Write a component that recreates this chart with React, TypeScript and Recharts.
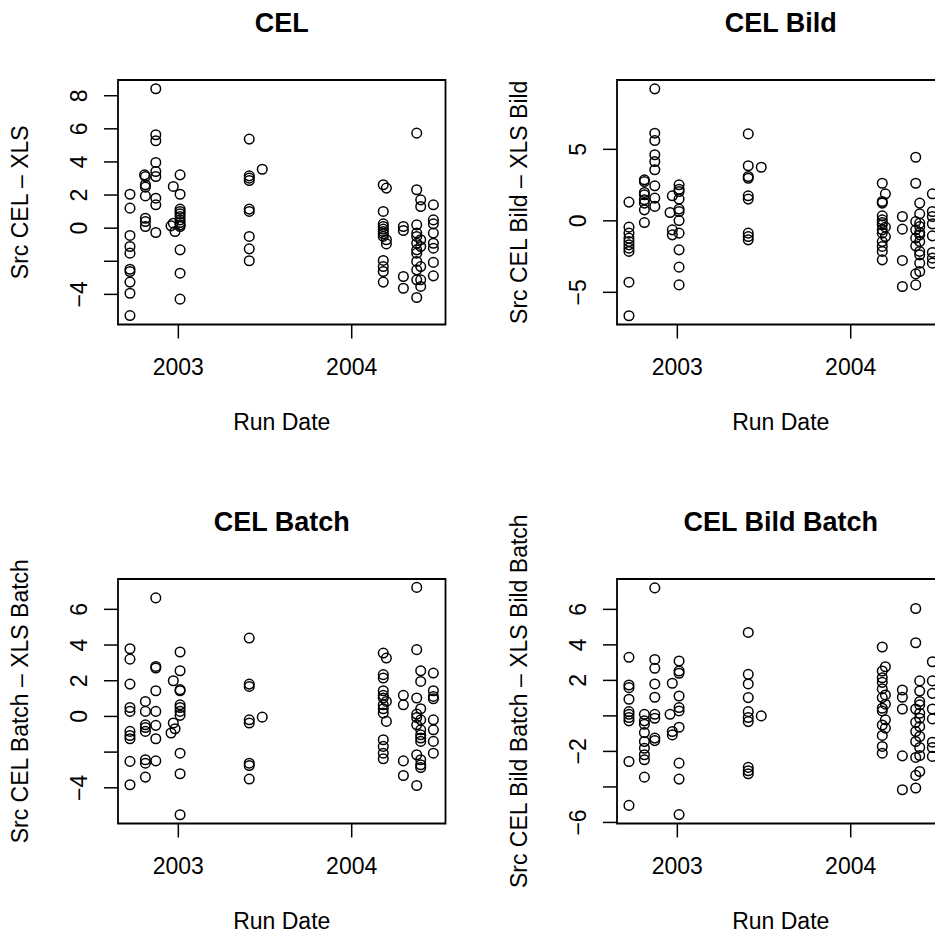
import React from 'react';
import { ScatterChart, Scatter, XAxis, YAxis, ReferenceArea } from 'recharts';

// run dates as decimal years (clusters of runs)
const runDates = [
  2002.721, 2002.81, 2002.805, 2002.87, 2002.958, 2002.971, 2002.981, 2003.01,
  2003.409, 2003.484, 2004.182, 2004.2, 2004.298, 2004.375, 2004.398, 2004.471,
];

// differences per run date (same order as runDates)
const celDiff: number[][] = [
  [2.05, 1.21, -0.44, -1.11, -1.51, -2.48, -2.62, -3.26, -3.93, -5.28],
  [3.12, 2.62, 2.48, 1.95, 0.6, 0.4, 0.1],
  [3.22],
  [8.42, 5.64, 5.28, 3.97, 3.42, 3.12, 1.81, 1.41, -0.26],
  [0.14],
  [2.52, 0.3],
  [-0.2],
  [3.22, 2.05, 1.15, 1.01, 0.87, 0.7, 0.5, 0.34, 0.2, 0.1, -1.31, -2.72, -4.29],
  [5.38, 3.16, 3.02, 2.88, 1.15, 1.01, -0.5, -1.25, -1.97],
  [3.56],
  [2.62, 1.01, 0.26, 0.1, -0.06, -0.2, -0.34, -0.5, -1.95, -2.32, -2.62, -3.26],
  [2.42, -0.7, -0.95],
  [0.1, -0.14, -2.92, -3.63],
  [5.74, 2.32, 0.2, -0.3, -0.5, -0.91, -1.31, -1.51, -2.01, -2.52, -3.12, -4.19],
  [1.71, 1.31, -0.7, -1.11, -2.32, -3.12, -3.52],
  [1.41, 0.5, 0.26, -0.3, -0.91, -1.21, -2.07, -2.88],
];

const celBildDiff: number[][] = [
  [1.31, -0.44, -0.86, -1.21, -1.45, -1.68, -1.91, -2.14, -4.29, -6.64],
  [2.87, 2.75, 1.98, 1.82, 1.47, 1.24, 0.77, -0.12],
  [],
  [9.23, 6.13, 5.62, 4.62, 4.15, 3.57, 2.45, 1.59, 1.01],
  [0.58],
  [1.75, -0.63, -0.98],
  [],
  [2.52, 2.21, 2.05, 1.52, 0.82, 0.65, 0.02, -0.86, -2.03, -3.24, -4.48],
  [6.08, 3.85, 3.1, 2.98, 1.75, 1.52, -0.86, -1.1, -1.33],
  [3.75],
  [2.63, 1.35, 1.24, 0.35, 0.07, -0.12, -0.28, -0.63, -0.86, -1.45, -1.79, -2.14, -2.73],
  [1.89, -0.44, -1.1],
  [0.3, -0.58, -2.77, -4.59],
  [4.45, 2.63, -0.05, -0.63, -1.21, -1.75, -3.71, -4.48],
  [1.24, 0.49, -0.16, -0.4, -0.82, -0.98, -1.45, -2.14, -2.38, -2.96, -3.54],
  [1.89, 0.65, 0.3, -0.21, -1.05, -2.21, -2.61, -2.96],
];

const celBatchDiff: number[][] = [
  [3.79, 3.21, 1.81, 0.5, 0.28, -0.84, -1.07, -1.25, -2.52, -3.83],
  [0.84, 0.28, -0.47, -0.62, -0.84, -2.43, -2.62, -3.4],
  [],
  [6.64, 2.8, 2.71, 1.44, 0.28, -0.5, -1.25, -2.49],
  [-0.93],
  [2.0, -0.37],
  [-0.69],
  [3.61, 2.56, 1.5, 1.44, 0.65, 0.5, 0.28, 0.06, -2.06, -3.21, -5.51],
  [4.39, 1.81, 1.68, -0.19, -0.37, -2.62, -2.75, -3.51],
  [-0.04],
  [3.55, 2.34, 2.15, 1.44, 1.18, 1.03, 0.65, 0.43, 0.19, -1.31, -1.68, -2.06, -2.37],
  [3.27, 0.84, -0.28],
  [1.18, 0.65, -2.49, -3.31],
  [7.23, 3.74, 1.03, 0.13, -0.06, -0.47, -2.15, -3.87],
  [2.56, 1.96, 0.43, -0.19, -0.75, -1.03, -1.21, -1.4, -2.43, -2.71, -2.86],
  [2.43, 1.44, 1.12, 0.99, -0.19, -0.75, -1.4, -2.06],
];

const celBildBatchDiff: number[][] = [
  [3.3, 1.74, 1.59, 0.94, 0.24, 0.09, -0.09, -0.28, -2.57, -5.04],
  [0.09, -0.28, -0.47, -0.94, -1.44, -1.82, -2.19, -2.47, -3.45],
  [],
  [7.21, 3.18, 2.68, 1.8, 1.05, 0.09, -0.13, -1.25, -1.39],
  [0.09],
  [1.84, -0.88, -1.07],
  [],
  [3.09, 2.53, 2.4, 1.12, 0.47, 0.28, -0.64, -2.66, -3.56, -5.56],
  [4.7, 2.34, 1.8, 1.03, 0.24, -0.09, -0.32, -2.9, -3.09, -3.26],
  [0.0],
  [3.88, 2.53, 2.15, 1.89, 1.52, 1.03, 0.43, 0.28, -0.51, -1.1, -1.72, -2.1],
  [2.77, 1.18, 0.66, -0.22, -0.69],
  [1.46, 1.05, 0.39, -2.25, -4.16],
  [6.05, 4.12, 0.39, -0.36, -0.88, -1.44, -2.34, -3.35, -4.06],
  [1.97, 1.4, 0.81, 0.62, 0.15, -0.13, -0.6, -1.16, -1.78, -2.23, -3.13],
  [3.05, 1.97, 1.27, 0.39, -0.17, -1.48, -1.78, -2.28],
];

const xTicks = [2003, 2004];
const titles = ['CEL', 'CEL Bild', 'CEL Batch', 'CEL Bild Batch'];
const yLabels = [
  'Src CEL \u2013 XLS',
  'Src CEL Bild \u2013 XLS Bild',
  'Src CEL Batch \u2013 XLS Batch',
  'Src CEL Bild Batch \u2013 XLS Bild Batch',
];
const yTicks = [
  [-4, -2, 0, 2, 4, 6, 8],
  [-5, 0, 5],
  [-4, -2, 0, 2, 4, 6],
  [-6, -4, -2, 0, 2, 4, 6],
];
// tick labels R dropped because they would overlap
const yHidden = [[-2], [], [-2], [-4, 0]];

const X_DOMAIN: [number, number] = [2002.652, 2004.541];
const Y_DOMAINS: [number, number][] = [
  [-5.82, 8.95],
  [-7.25, 9.85],
  [-6.0, 7.7],
  [-6.06, 7.71],
];

const FONT = '"Liberation Sans", Arial, Helvetica, sans-serif';
const W = 500;
const H = 498;
const BOX_LEFT = 118;
const BOX_TOP = 80;
const BOX_W = 327.5;
const BOX_H = 244.5;
const X_AXIS_H = 60;

const fmt = (v: number) => (v < 0 ? '\u2212' + Math.abs(v) : String(v));

const Panel = ({ idx, values, left, top }: { idx: number; values: number[][]; left: number; top: number }) => {
  const data = runDates.flatMap((d, i) => values[i].map((v) => ({ date: d, diff: v })));
  const yDomain = Y_DOMAINS[idx];
  const hidden = yHidden[idx];

  return (
    <div style={{ position: 'absolute', left, top, width: W, height: H }}>
      <div
        style={{
          position: 'absolute',
          left: BOX_LEFT,
          width: BOX_W,
          top: 9.8,
          textAlign: 'center',
          fontFamily: FONT,
          fontWeight: 'bold',
          fontSize: 27,
          lineHeight: '27px',
          zIndex: 2,
        }}
      >
        {titles[idx]}
      </div>
      <ScatterChart
        width={W}
        height={H}
        margin={{ top: BOX_TOP, right: W - BOX_LEFT - BOX_W, bottom: H - BOX_TOP - BOX_H - X_AXIS_H, left: 0 }}
      >
        <XAxis
          type="number"
          dataKey="date"
          domain={X_DOMAIN}
          ticks={xTicks}
          allowDataOverflow
          axisLine={false}
          tickLine={{ stroke: '#000', strokeWidth: 1.5 }}
          tickSize={14}
          tickMargin={0}
          height={X_AXIS_H}
          tick={(p: any) => (
            <text x={p.x} y={p.y + 36.5} textAnchor="middle" fontFamily={FONT} fontSize={23} fill="#000">
              {p.payload.value}
            </text>
          )}
          label={{
            content: (p: any) => {
              const vb = p.viewBox;
              return (
                <text x={vb.x + vb.width / 2} y={vb.y + 105} textAnchor="middle" fontFamily={FONT} fontSize={23} fill="#000">
                  Run Date
                </text>
              );
            },
          }}
        />
        <YAxis
          type="number"
          dataKey="diff"
          domain={yDomain}
          ticks={yTicks[idx]}
          allowDataOverflow
          axisLine={false}
          tickLine={{ stroke: '#000', strokeWidth: 1.5 }}
          tickSize={14}
          tickMargin={0}
          width={BOX_LEFT}
          tick={(p: any) => {
            const v = p.payload.value;
            if (hidden.includes(v)) return <g />;
            const tx = p.x - 17;
            return (
              <text
                x={tx}
                y={p.y}
                transform={`rotate(-90 ${tx} ${p.y})`}
                textAnchor="middle"
                fontFamily={FONT}
                fontSize={23}
                fill="#000"
              >
                {fmt(v)}
              </text>
            );
          }}
          label={{
            content: (p: any) => {
              const vb = p.viewBox;
              const cx = vb.x + 28;
              const cy = vb.y + vb.height / 2;
              return (
                <text
                  x={cx}
                  y={cy}
                  transform={`rotate(-90 ${cx} ${cy})`}
                  textAnchor="middle"
                  fontFamily={FONT}
                  fontSize={23}
                  fill="#000"
                >
                  {yLabels[idx]}
                </text>
              );
            },
          }}
        />
        <ReferenceArea
          x1={X_DOMAIN[0]}
          x2={X_DOMAIN[1]}
          y1={yDomain[0]}
          y2={yDomain[1]}
          fill="none"
          fillOpacity={0}
          stroke="#000"
          strokeWidth={1.8}
          ifOverflow="visible"
        />
        <Scatter
          data={data}
          isAnimationActive={false}
          shape={(p: any) => <circle cx={p.cx} cy={p.cy} r={4.8} fill="none" stroke="#000" strokeWidth={1.5} />}
        />
      </ScatterChart>
    </div>
  );
};

const App = () => (
  <div style={{ position: 'absolute', left: 0, top: 0, width: 935, height: 932, overflow: 'hidden', background: '#fff' }}>
    <Panel idx={0} values={celDiff} left={0} top={0} />
    <Panel idx={1} values={celBildDiff} left={499} top={0} />
    <Panel idx={2} values={celBatchDiff} left={0} top={499} />
    <Panel idx={3} values={celBildBatchDiff} left={499} top={499} />
  </div>
);

export default App;
